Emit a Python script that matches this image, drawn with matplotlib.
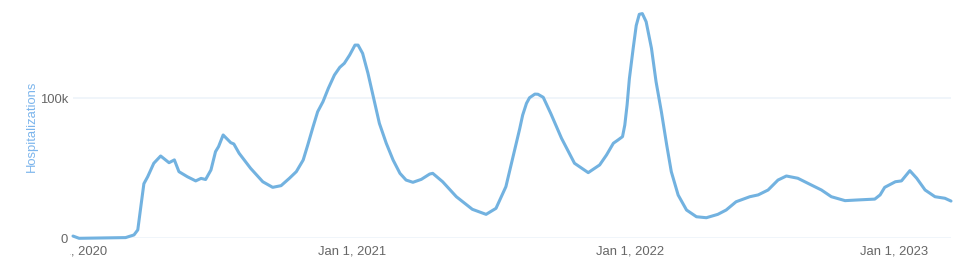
import numpy as np
import matplotlib
matplotlib.use('Agg')
import matplotlib.pyplot as plt
from matplotlib.transforms import Bbox, TransformedBbox, ScaledTranslation

plt.rcParams['font.family'] = ['Liberation Sans', 'DejaVu Sans']

# Daily hospitalizations (thousands)
dates = [
    '2020-01-01', '2020-01-09', '2020-03-10', '2020-03-21', '2020-03-26', '2020-03-30',
    '2020-04-03', '2020-04-08', '2020-04-16', '2020-04-25', '2020-05-06', '2020-05-13',
    '2020-05-19', '2020-05-30', '2020-06-10', '2020-06-17', '2020-06-23', '2020-06-30',
    '2020-07-06', '2020-07-10', '2020-07-16', '2020-07-26', '2020-07-30', '2020-08-06',
    '2020-08-21', '2020-09-06', '2020-09-19', '2020-09-30',
    '2020-10-11', '2020-10-20', '2020-10-29', '2020-11-04', '2020-11-11', '2020-11-17',
    '2020-11-24', '2020-12-01', '2020-12-09', '2020-12-16', '2020-12-22', '2020-12-29',
    '2021-01-05', '2021-01-09', '2021-01-15', '2021-01-22', '2021-01-29', '2021-02-06',
    '2021-02-15', '2021-02-24', '2021-03-05', '2021-03-13', '2021-03-22', '2021-04-02',
    '2021-04-13', '2021-04-17', '2021-04-30', '2021-05-18',
    '2021-06-08', '2021-06-26', '2021-07-09', '2021-07-22', '2021-08-09', '2021-08-13',
    '2021-08-18', '2021-08-22', '2021-08-29', '2021-09-02', '2021-09-09', '2021-09-19',
    '2021-10-03', '2021-10-20', '2021-11-07',
    '2021-11-22', '2021-12-01', '2021-12-10', '2021-12-16', '2021-12-22', '2021-12-25',
    '2021-12-28', '2021-12-31', '2022-01-05', '2022-01-09', '2022-01-13', '2022-01-17',
    '2022-01-22', '2022-01-29', '2022-02-04', '2022-02-11', '2022-02-18', '2022-02-24',
    '2022-03-05', '2022-03-16', '2022-03-29', '2022-04-11', '2022-04-26',
    '2022-05-07', '2022-05-20', '2022-06-07', '2022-06-18', '2022-07-01',
    '2022-07-14', '2022-07-25', '2022-08-09', '2022-08-27', '2022-09-09', '2022-09-22',
    '2022-10-10', '2022-10-27', '2022-11-18', '2022-11-25', '2022-12-01', '2022-12-15',
    '2022-12-23', '2023-01-03', '2023-01-12', '2023-01-23', '2023-02-05', '2023-02-18',
    '2023-02-26',
]
hosp_k = [
    1.6, 0.0, 0.5, 2.4, 6.0, 22.6,
    39.0, 44.0, 53.6, 58.8, 54.0, 56.0,
    47.6, 44.0, 41.0, 42.8, 42.0, 48.8,
    61.9, 65.5, 73.8, 68.3, 67.4, 60.7,
    50.0, 40.4, 36.4, 37.6,
    42.9, 47.6, 55.9, 66.6, 79.7, 90.4,
    97.6, 107.1, 116.6, 122.1, 125.0, 130.9,
    138.0, 138.0, 132.1, 117.9, 101.2, 82.1,
    67.9, 55.9, 46.4, 41.6, 40.0, 42.1,
    45.9, 46.4, 40.4, 29.7,
    20.7, 17.1, 21.4, 36.9, 78.0, 88.0,
    96.4, 100.4, 103.0, 102.9, 100.7, 89.0,
    71.4, 53.6, 46.9,
    52.4, 59.5, 67.9, 70.2, 72.6, 80.9,
    95.2, 114.0, 135.7, 152.0, 160.0, 160.5,
    154.7, 135.7, 111.9, 90.4, 66.6, 47.6,
    30.9, 20.2, 15.4, 14.7, 17.1,
    20.2, 26.1, 29.7, 31.0, 34.5,
    41.6, 44.5, 42.9, 38.0, 34.5, 29.7,
    26.9, 27.4, 28.0, 31.0, 36.4, 40.4,
    41.0, 48.3, 42.9, 34.5, 29.7, 28.6,
    26.6,
]

tick_dates = ['2020-01-01', '2021-01-01', '2022-01-01', '2023-01-01']
tick_labels = ['Jan 1, 2020', 'Jan 1, 2021', 'Jan 1, 2022', 'Jan 1, 2023']
ytick_vals = [0, 100000]
ytick_labels = ['0', '100k']

x = np.array(dates, dtype='datetime64[D]')
y = np.array(hosp_k) * 1000

line_color = '#72b2e0'
grid_color = '#edf3f9'
text_color = '#666666'

fig = plt.figure(figsize=(9.75, 2.77), dpi=100)
ax = fig.add_axes([73 / 975, 38.7 / 277, 878 / 975, 238 / 277])

ax.plot(x, y, color=line_color, lw=2.2, solid_joinstyle='round', solid_capstyle='round', clip_on=False)

ax.set_xlim(x[0], x[-1])
ax.set_ylim(0, 170000)

for s in ax.spines.values():
    s.set_visible(False)

ax.set_yticks(ytick_vals)
ax.set_yticklabels(ytick_labels)
ax.yaxis.grid(True, color=grid_color, lw=1.2)
ax.set_axisbelow(True)

ax.set_xticks(np.array(tick_dates, dtype='datetime64[D]'))
ax.set_xticklabels(tick_labels)

ax.tick_params(axis='both', length=0, labelsize=9.4, labelcolor=text_color)
ax.tick_params(axis='y', pad=3.6)
ax.tick_params(axis='x', pad=5)

# labels are cut off at the left edge of the plot area
clip_box = TransformedBbox(Bbox([[-3 / 878, -0.5], [1.1, 1.1]]), ax.transAxes)
xlabels = ax.get_xticklabels()
for lbl in xlabels:
    lbl.set_clip_box(clip_box)
    lbl.set_clip_on(True)
# last label sits a bit left of its tick
xlabels[-1].set_transform(xlabels[-1].get_transform() + ScaledTranslation(-14 / 100, 0, fig.dpi_scale_trans))

fig.text(32 / 975, (277 - 126) / 277, 'Hospitalizations', rotation=90, ha='center', va='center',
         fontsize=9.4, color='#7cb5ec')

plt.savefig('out.png', dpi=100)
plt.close()
